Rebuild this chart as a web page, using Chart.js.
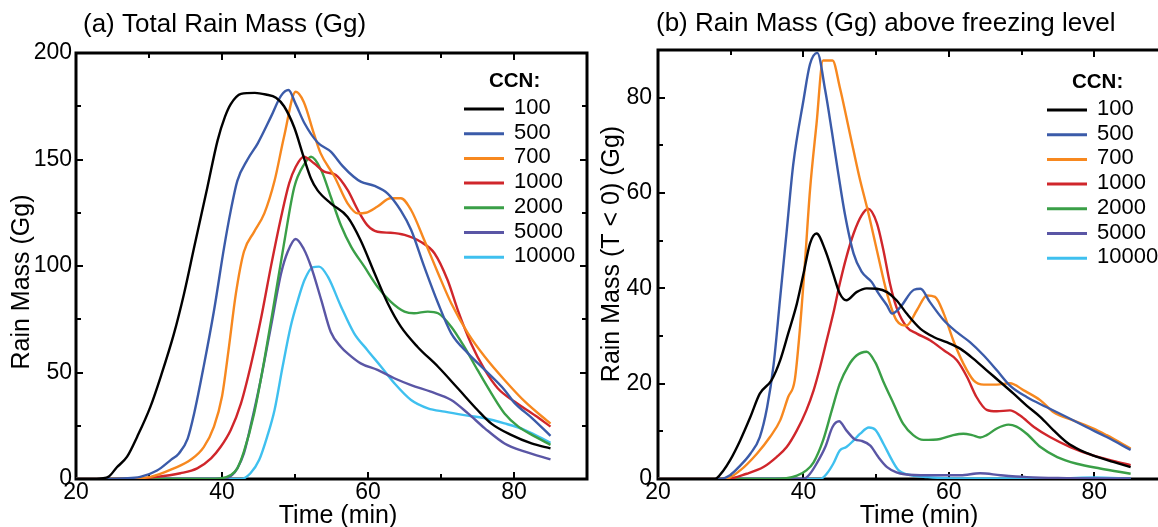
<!DOCTYPE html>
<html>
<head>
<meta charset="utf-8">
<script src="https://cdn.jsdelivr.net/npm/chart.js@4.4.1/dist/chart.umd.min.js"></script>
<style>
  html, body { margin: 0; padding: 0; background: #fff; overflow: hidden; width: 1158px; height: 527px; }
  .panel { position: absolute; top: 0; }
  #panelA { left: 0; }
  #panelB { left: 590px; }
</style>
</head>
<body>
<div class="panel" id="panelA"><canvas id="graficoA" width="590" height="527"></canvas></div>
<div class="panel" id="panelB"><canvas id="graficoB" width="590" height="527"></canvas></div>
<script>
// Etiquetas de las series (CCN)
const ccnLabels = ['100', '500', '700', '1000', '2000', '5000', '10000'];
const ccnColors = ['#000000', '#3b5ba9', '#f7881f', '#d0262b', '#3a9f47', '#5a56a5', '#3fc0ef'];

// (a) masa total de lluvia, pares [tiempo (min), masa (Gg)]
const totalCcn100 = [[20,0],[22,0],[23.5,0.3],[24.5,1.2],[25.6,5.5],[27,10.5],[28.4,20],[30.2,34],[31.6,48],[33.4,68],[34.8,87],[36.2,109],[38,137],[39.4,159],[40.4,170],[41.2,176],[42.6,180.8],[44.5,181.3],[46,180.5],[47.4,179],[48.5,175],[49.9,165],[51.2,151],[52.2,141],[53.1,135.5],[54.9,129.4],[57.2,123],[59,112],[60.9,96.6],[62.7,82.5],[64.5,71.5],[66.8,62],[69.6,52.7],[72.3,42.6],[75,32.4],[76.9,26],[79.6,20.7],[82.4,16.7],[85,14.4]];
const totalCcn500 = [[20,0],[24,0],[26.5,0.3],[28.8,1],[31.1,4],[33,9],[34.1,12],[35.3,19],[36.2,31],[37.5,53],[38.9,79],[40.3,109],[41.2,126],[42.1,140],[43.5,150],[44.9,157.6],[46.7,170],[48.1,180],[49.1,182.6],[50.1,176],[51.3,167],[53.1,158],[54.9,153.7],[56.5,147],[58,142],[59,139.6],[60.9,137.6],[62.7,134],[64.5,126],[65.9,117],[67.7,99.7],[69.6,82.5],[71.4,68.4],[73.7,59],[76,51.2],[78.7,41.8],[80,36],[82.5,28.5],[85,20.3]];
const totalCcn700 = [[20,0],[26,0],[30.2,1],[33.4,5],[35.7,9],[37.5,15],[38.9,24.6],[40,38.7],[40.9,60.6],[41.9,87],[43,106.7],[44.4,116],[45.8,124.7],[47.2,140],[48.5,160.7],[50.1,181.8],[51.2,177],[52.6,162],[53.5,153],[55.4,142],[57.2,129.4],[58.6,124.7],[59.7,125],[61.3,127.9],[63.1,131.8],[64.5,131.8],[65.9,126.3],[67.7,112.2],[69.6,96.6],[71.4,82.5],[73.7,68.4],[76,57.4],[78.7,46.5],[81.5,36.3],[85,26]];
const totalCcn1000 = [[20,0],[26,0],[31.1,1],[34.3,2.7],[36.6,5],[38.5,9.7],[39.8,15],[41.2,23],[42.6,35.5],[43.9,52.7],[45.3,74.6],[46.7,99.7],[48.1,123],[49.2,138.8],[50.1,146.6],[51.2,151.3],[52.6,148.2],[54,144.3],[55.6,142.7],[57.2,135.7],[58.6,126.3],[59.9,119.2],[61.3,116.1],[63.1,115.6],[65,114.6],[67.2,111.4],[69.1,106],[70.9,93.4],[72.3,79.3],[74.1,63.7],[76,51.2],[77.8,42.5],[80,36.5],[82.9,29.8],[85,24.6]];
const totalCcn2000 = [[20,0],[38,0],[39.8,0.3],[41.2,1.9],[42.1,5],[43,12.8],[44.4,30.8],[45.8,55.9],[47.2,84],[48.5,110.6],[49.9,137],[51.3,148],[52.2,151.3],[53.6,145],[54.9,132.5],[56.3,119],[57.7,109],[59.5,99.7],[61.3,90.3],[63.1,83.3],[65,78.6],[66.3,77.8],[68.2,78.6],[69.6,77.8],[71.4,71.5],[73.2,62],[75,51.2],[76.9,40.2],[78.7,30.8],[80.6,24.6],[82.9,19.9],[85,16]];
const totalCcn5000 = [[20,0],[38,0],[40.5,0.3],[41.4,1.9],[42.1,5],[43,12],[43.9,24.6],[45.3,46.5],[46.7,71.5],[48.1,96.6],[49,106.7],[50.1,112.7],[51.2,108],[52.2,99.7],[53.6,84],[54.9,69],[56.3,62],[57.2,59],[59,54.3],[61.3,51.2],[63.6,47.3],[65.9,44.1],[68.6,41],[71.4,37.1],[73.7,30.8],[76,23.8],[78.7,16.7],[81.5,12.8],[85,9.2]];
const totalCcn10000 = [[20,0],[42.6,0],[43.9,2.7],[45.1,9],[46.2,20],[47.2,32.4],[48.3,52.7],[49.4,71.5],[50.4,84],[51.3,93.4],[52.4,99.4],[53.3,99.7],[54.5,95],[56.3,81],[58.1,68.4],[59.9,60.6],[61.8,52.7],[63.6,45],[65.9,37.1],[68.2,33.2],[70.5,31.6],[73.2,30],[76,28.5],[78.7,26.1],[81.5,23],[85,17]];

// (b) masa de lluvia sobre el nivel de congelación (T < 0)
const frzCcn100 = [[20,0],[27.8,0],[29,1.8],[29.9,3.9],[31.3,8.1],[32.7,13],[34,17.9],[35.6,20.7],[36.8,24.9],[37.9,30.5],[39.1,36.8],[40,43],[40.9,49.4],[41.8,51.5],[43,48],[44.1,43],[45,38.9],[45.9,37.5],[47.3,39.2],[48.7,40],[50.1,39.9],[51.5,39.2],[52.8,37.5],[54.2,34.7],[56.1,31.5],[57.9,29.8],[59.7,28.7],[61.6,27.3],[63.4,25.2],[65.2,22.8],[67.1,20.3],[68.9,17.9],[70.7,15.4],[72.6,13],[74.4,10.2],[76.2,7.7],[78.1,6],[79.9,4.9],[82.6,3.6],[85,2.5]];
const frzCcn500 = [[20,0],[28.5,0],[29.9,0.8],[31.3,2.8],[32.7,5.3],[34,8.8],[35,15],[35.9,24],[36.8,38],[37.7,52],[38.6,66],[40,79.4],[40.9,87],[41.9,89.4],[43,81.5],[43.9,73],[44.8,64],[45.7,55.6],[46.9,47.3],[48,43.5],[49.4,41.3],[50.3,39],[51.5,36.4],[52.2,34.7],[53.3,36],[55.2,39.7],[56.1,39.9],[57.4,37.1],[59.3,33.3],[61.1,30.8],[62.9,28.7],[64.8,25.9],[66.6,22.8],[68.4,19.6],[70.7,17.2],[73.4,15.1],[76.2,13],[78.9,10.9],[81.7,8.8],[85,6.1]];
const frzCcn700 = [[20,0],[29.2,0],[31.3,1.8],[33.6,5.3],[35.4,8.8],[36.8,12.3],[37.9,17.2],[38.8,20.7],[39.5,31.2],[40.2,45.2],[40.9,60.5],[41.8,74.5],[42.7,87.8],[44,87.8],[45,82.2],[46.4,72.4],[47.7,63.3],[48.9,56],[50.1,48],[51.5,38.9],[52.8,33.3],[54.2,32.2],[55.6,35.4],[57,38.5],[58.1,38.2],[59.3,34.7],[60.6,29.1],[62,24.2],[63.4,20.7],[64.8,19.8],[66.6,19.8],[68.4,20.1],[70.3,18.6],[72.6,16.5],[74.4,14],[77.1,12.3],[79.9,10.6],[81.7,9.2],[85,6.4]];
const frzCcn1000 = [[20,0],[29.4,0],[32.2,1.1],[34.5,2.5],[36.3,4.6],[37.7,6.7],[39.1,10.2],[40.4,14.4],[41.4,18.6],[42.3,23.5],[43.2,29.1],[44.1,34.7],[45,41],[45.9,46.5],[46.9,51.5],[48,55.3],[48.9,56.7],[50.1,53.7],[51,48],[51.9,41],[52.8,36],[54.2,31.9],[55.6,30.5],[57.4,29.1],[59.3,27],[61.1,24.9],[62.5,21.4],[63.8,17.2],[65.2,14.5],[66.6,14.2],[68.4,14.4],[69.8,13.3],[71.7,10.9],[73.9,8.8],[76.7,6.7],[79.9,4.9],[82.6,3.8],[85,2.9]];
const frzCcn2000 = [[20,0],[36,0],[39.1,0.7],[40.4,1.8],[41.4,3.5],[42.7,8.1],[43.9,14.4],[45,20],[46.2,23.8],[47.3,25.9],[48.7,26.7],[49.9,24.4],[51,20.4],[52.4,15.8],[53.7,11.6],[55.1,9.2],[56.5,8.2],[58.8,8.4],[60.6,9.2],[62,9.5],[63.2,9.2],[64.3,8.7],[65.2,9.2],[66.6,10.6],[68.2,11.4],[69.3,11],[70.7,9.5],[72.6,6.7],[74.9,4.6],[77.6,3.2],[80.8,2.2],[85,1.1]];
const frzCcn5000 = [[20,0],[40,0],[40.9,1.1],[41.8,3.2],[43,6.7],[44,10.9],[44.9,12.1],[45.9,10.2],[47.1,8.3],[48,8],[49.2,7],[50.3,4.6],[51.5,2.5],[52.8,1.4],[53.9,1],[57.1,0.8],[61.6,0.8],[64.3,1.2],[67.1,0.8],[70.7,0.4],[75,0.2],[85,0.1]];
const frzCcn10000 = [[20,0],[42.3,0],[43.2,1.1],[44.1,3.2],[45,6],[45.9,6.7],[46.9,8.1],[47.8,9.5],[49,10.8],[49.9,10.3],[51,7.4],[52.2,3.9],[53.1,1.8],[54.2,1],[57.1,0.4],[62,0.1],[75,0.1],[80,0.3],[85,0.1]];

const totalSeries = [totalCcn100, totalCcn500, totalCcn700, totalCcn1000, totalCcn2000, totalCcn5000, totalCcn10000];
const frzSeries = [frzCcn100, frzCcn500, frzCcn700, frzCcn1000, frzCcn2000, frzCcn5000, frzCcn10000];

const FONT = "'Liberation Sans', Arial, Helvetica, sans-serif";

// Marco con marcas de graduación hacia dentro
const marcoPlugin = {
    id: 'marco',
    beforeDatasetsDraw(chart) {
        const { ctx, chartArea: a } = chart;
        const x = chart.scales.x, y = chart.scales.y;
        ctx.save();
        ctx.strokeStyle = '#000';
        ctx.lineWidth = 2;
        ctx.beginPath();
        x.ticks.forEach(t => {
            const px = Math.round(x.getPixelForValue(t.value));
            const len = t.label !== '' ? 7 : 5;
            ctx.moveTo(px, a.bottom); ctx.lineTo(px, a.bottom - len);
            ctx.moveTo(px, a.top); ctx.lineTo(px, a.top + len);
        });
        y.ticks.forEach(t => {
            const py = Math.round(y.getPixelForValue(t.value));
            const len = t.label !== '' ? 7 : 5;
            ctx.moveTo(a.left, py); ctx.lineTo(a.left + len, py);
            ctx.moveTo(a.right, py); ctx.lineTo(a.right - len, py);
        });
        ctx.stroke();
        ctx.lineWidth = 3;
        ctx.strokeRect(a.left, a.top, a.right - a.left, a.bottom - a.top);
        ctx.restore();
    }
};

// Títulos del panel y de los ejes
const textosPlugin = {
    id: 'textos',
    afterDraw(chart, args, opts) {
        const ctx = chart.ctx;
        ctx.save();
        ctx.fillStyle = '#000';
        ctx.font = `26px ${FONT}`;
        ctx.textAlign = 'left';
        ctx.textBaseline = 'alphabetic';
        ctx.fillText(opts.titulo, opts.tituloX, opts.tituloY);
        ctx.font = `25px ${FONT}`;
        ctx.textAlign = 'center';
        ctx.fillText(opts.ejeX, opts.ejeXX, opts.ejeXY);
        ctx.translate(opts.ejeYX, opts.ejeYY);
        ctx.rotate(-Math.PI / 2);
        ctx.textBaseline = 'middle';
        ctx.fillText(opts.ejeY, 0, 0);
        ctx.restore();
    }
};

// Leyenda dentro del área del gráfico
const leyendaPlugin = {
    id: 'leyenda',
    afterDraw(chart, args, opts) {
        const ctx = chart.ctx;
        const x0 = chart.chartArea.right - opts.offsetRight;
        ctx.save();
        ctx.fillStyle = '#000';
        ctx.textAlign = 'left';
        ctx.textBaseline = 'alphabetic';
        ctx.font = `bold 20.5px ${FONT}`;
        ctx.fillText('CCN:', x0 + 25, opts.top);
        ctx.font = `22px ${FONT}`;
        chart.data.datasets.forEach((ds, i) => {
            const yy = opts.top + 22 + i * 24.7;
            ctx.strokeStyle = ds.borderColor;
            ctx.lineWidth = 3;
            ctx.beginPath();
            ctx.moveTo(x0, yy);
            ctx.lineTo(x0 + 40, yy);
            ctx.stroke();
            ctx.fillText(ds.label, x0 + 50, yy + 5);
        });
        ctx.restore();
    }
};

function buildDatasets(series) {
    return series.map((pts, i) => ({
        label: ccnLabels[i],
        data: pts.map(p => ({ x: p[0], y: p[1] })),
        borderColor: ccnColors[i],
        borderWidth: 2.4,
        pointRadius: 0,
        fill: false,
        cubicInterpolationMode: 'monotone'
    }));
}

function buildChart(canvasId, series, cfg) {
    const ctx = document.getElementById(canvasId).getContext('2d');
    return new Chart(ctx, {
        type: 'line',
        data: { datasets: buildDatasets(series) },
        options: {
            responsive: false,
            animation: false,
            devicePixelRatio: 1,
            events: [],
            layout: { padding: { left: 0, top: cfg.top, right: cfg.right, bottom: 0 } },
            scales: {
                x: {
                    type: 'linear',
                    min: 20, max: 90,
                    grid: { display: false, drawTicks: false },
                    border: { display: false },
                    ticks: {
                        stepSize: 10, autoSkip: false, maxRotation: 0, padding: 0,
                        color: '#000', font: { family: FONT, size: 23 },
                        callback: v => (v % 20 === 0 ? v : '')
                    },
                    afterFit: s => { s.height = cfg.xHeight; s.paddingLeft = 0; s.paddingRight = 0; }
                },
                y: {
                    min: 0, max: cfg.yMax,
                    grid: { display: false, drawTicks: false },
                    border: { display: false },
                    ticks: {
                        stepSize: cfg.yStep, autoSkip: false, padding: cfg.yPad,
                        color: '#000', font: { family: FONT, size: 23 },
                        callback: v => (v % cfg.yLabelStep === 0 ? v : '')
                    },
                    afterFit: s => { s.width = cfg.yWidth; s.paddingTop = 0; s.paddingBottom = 0; }
                }
            },
            plugins: {
                legend: { display: false },
                tooltip: { enabled: false },
                textos: cfg.textos,
                leyenda: cfg.leyenda
            }
        },
        plugins: [marcoPlugin, textosPlugin, leyendaPlugin]
    });
}

buildChart('graficoA', totalSeries, {
    top: 53, right: 3, xHeight: 48, yWidth: 76,
    yMax: 200, yStep: 25, yLabelStep: 50, yPad: 4,
    textos: {
        titulo: '(a) Total Rain Mass (Gg)', tituloX: 83, tituloY: 32,
        ejeX: 'Time (min)', ejeXX: 338, ejeXY: 523,
        ejeY: 'Rain Mass (Gg)', ejeYX: 22, ejeYY: 282
    },
    leyenda: { offsetRight: 123, top: 87 }
});

buildChart('graficoB', frzSeries, {
    top: 50, right: 13, xHeight: 48, yWidth: 68,
    yMax: 90, yStep: 10, yLabelStep: 20, yPad: 6,
    textos: {
        titulo: '(b) Rain Mass (Gg) above freezing level', tituloX: 66, tituloY: 31,
        ejeX: 'Time (min)', ejeXX: 329, ejeXY: 523,
        ejeY: 'Rain Mass (T < 0) (Gg)', ejeYX: 22, ejeYY: 254
    },
    leyenda: { offsetRight: 120, top: 88 }
});
</script>
</body>
</html>
